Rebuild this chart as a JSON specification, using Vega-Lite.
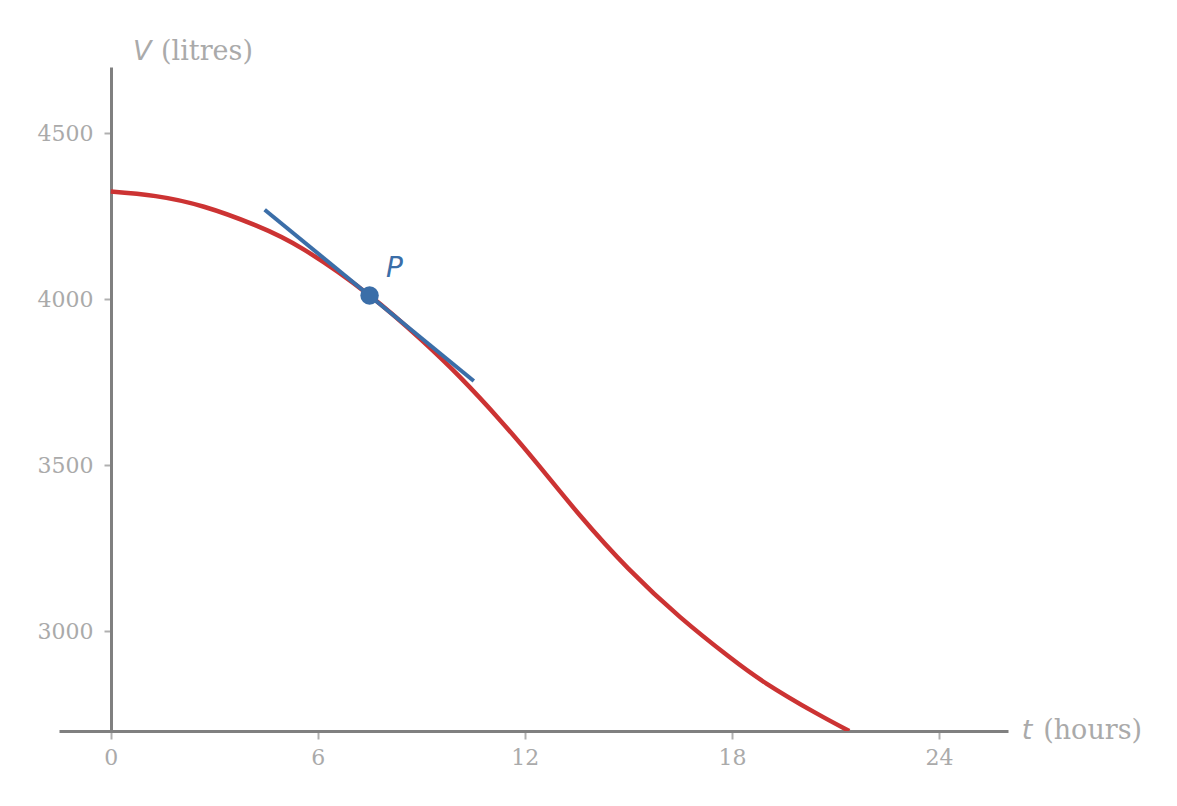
{
  "$schema": "https://vega.github.io/schema/vega-lite/v6.json",
  "width": 949,
  "height": 664,
  "autosize": "none",
  "padding": {"left": 59, "top": 67, "right": 169, "bottom": 75},
  "background": "white",
  "config": {"view": {"stroke": null}, "axis": {"grid": false}},
  "datasets": {
    "curve": [
      {"t": 0, "V": 4325},
      {"t": 1.3, "V": 4311},
      {"t": 2.7, "V": 4279},
      {"t": 4.2, "V": 4223},
      {"t": 5.6, "V": 4150},
      {"t": 7.5, "V": 4012},
      {"t": 9.0, "V": 3878},
      {"t": 10.1, "V": 3768},
      {"t": 11.3, "V": 3634},
      {"t": 12.4, "V": 3500},
      {"t": 13.6, "V": 3349},
      {"t": 15.0, "V": 3189},
      {"t": 16.5, "V": 3043},
      {"t": 17.9, "V": 2925},
      {"t": 19.0, "V": 2843},
      {"t": 20.4, "V": 2756},
      {"t": 21.4, "V": 2700}
    ],
    "tangent": [
      {"t": 4.46, "V": 4270},
      {"t": 10.52, "V": 3754}
    ],
    "point": [{"t": 7.5, "V": 4012, "label": "P"}]
  },
  "layer": [
    {
      "data": {"name": "curve"},
      "mark": {"type": "line", "color": "#cc3333", "strokeWidth": 4.5, "interpolate": "natural", "clip": true},
      "encoding": {
        "x": {
          "field": "t", "type": "quantitative",
          "scale": {"domain": [-1.5, 26], "nice": false, "zero": false},
          "axis": {
            "values": [0, 6, 12, 18, 24], "title": null, "format": "d",
            "domainColor": "#808080", "domainWidth": 3,
            "tickColor": "#b0b0b0", "tickWidth": 2, "tickSize": 8,
            "labelFont": "DejaVu Serif", "labelFontSize": 22, "labelColor": "#aaaaaa",
            "labelPadding": 8
          }
        },
        "y": {
          "field": "V", "type": "quantitative",
          "scale": {"domain": [2700, 4700], "nice": false, "zero": false},
          "axis": {
            "values": [3000, 3500, 4000, 4500], "title": null, "offset": -52, "format": "d",
            "domainColor": "#808080", "domainWidth": 3,
            "tickColor": "#b0b0b0", "tickWidth": 2, "tickSize": 7,
            "labelFont": "DejaVu Serif", "labelFontSize": 22, "labelColor": "#aaaaaa",
            "labelPadding": 11
          }
        }
      }
    },
    {
      "data": {"name": "tangent"},
      "mark": {"type": "line", "color": "#3b6ea8", "strokeWidth": 4},
      "encoding": {
        "x": {"field": "t", "type": "quantitative", "scale": {"domain": [-1.5, 26], "nice": false, "zero": false}},
        "y": {"field": "V", "type": "quantitative", "scale": {"domain": [2700, 4700], "nice": false, "zero": false}}
      }
    },
    {
      "data": {"name": "point"},
      "mark": {"type": "circle", "color": "#3b6ea8", "size": 340, "opacity": 1},
      "encoding": {
        "x": {"field": "t", "type": "quantitative", "scale": {"domain": [-1.5, 26], "nice": false, "zero": false}},
        "y": {"field": "V", "type": "quantitative", "scale": {"domain": [2700, 4700], "nice": false, "zero": false}}
      }
    },
    {
      "data": {"values": [{"label": "P"}]},
      "mark": {"type": "text", "font": "DejaVu Sans", "fontStyle": "italic", "fontSize": 28, "color": "#3b6ea8", "align": "left", "baseline": "alphabetic"},
      "encoding": {
        "x": {"datum": 7.975, "type": "quantitative", "scale": {"domain": [-1.5, 26], "nice": false, "zero": false}},
        "y": {"datum": 4067, "type": "quantitative", "scale": {"domain": [2700, 4700], "nice": false, "zero": false}},
        "text": {"field": "label"}
      }
    },
    {
      "data": {"values": [{"label": "V"}]},
      "mark": {"type": "text", "font": "DejaVu Sans", "fontStyle": "italic", "fontSize": 27, "color": "#aaaaaa", "align": "left", "baseline": "alphabetic"},
      "encoding": {
        "x": {"datum": 0.644, "type": "quantitative", "scale": {"domain": [-1.5, 26], "nice": false, "zero": false}},
        "y": {"datum": 4721, "type": "quantitative", "scale": {"domain": [2700, 4700], "nice": false, "zero": false}},
        "text": {"field": "label"}
      }
    },
    {
      "data": {"values": [{"label": "(litres)"}]},
      "mark": {"type": "text", "font": "DejaVu Serif", "fontSize": 27, "color": "#aaaaaa", "align": "left", "baseline": "alphabetic"},
      "encoding": {
        "x": {"datum": 1.456, "type": "quantitative", "scale": {"domain": [-1.5, 26], "nice": false, "zero": false}},
        "y": {"datum": 4721, "type": "quantitative", "scale": {"domain": [2700, 4700], "nice": false, "zero": false}},
        "text": {"field": "label"}
      }
    },
    {
      "data": {"values": [{"label": "t"}]},
      "mark": {"type": "text", "font": "DejaVu Sans", "fontStyle": "italic", "fontSize": 27, "color": "#aaaaaa", "align": "left", "baseline": "alphabetic"},
      "encoding": {
        "x": {"datum": 26.4, "type": "quantitative", "scale": {"domain": [-1.5, 26], "nice": false, "zero": false}},
        "y": {"datum": 2676, "type": "quantitative", "scale": {"domain": [2700, 4700], "nice": false, "zero": false}},
        "text": {"field": "label"}
      }
    },
    {
      "data": {"values": [{"label": "(hours)"}]},
      "mark": {"type": "text", "font": "DejaVu Serif", "fontSize": 27, "color": "#aaaaaa", "align": "left", "baseline": "alphabetic"},
      "encoding": {
        "x": {"datum": 27.02, "type": "quantitative", "scale": {"domain": [-1.5, 26], "nice": false, "zero": false}},
        "y": {"datum": 2676, "type": "quantitative", "scale": {"domain": [2700, 4700], "nice": false, "zero": false}},
        "text": {"field": "label"}
      }
    }
  ]
}
